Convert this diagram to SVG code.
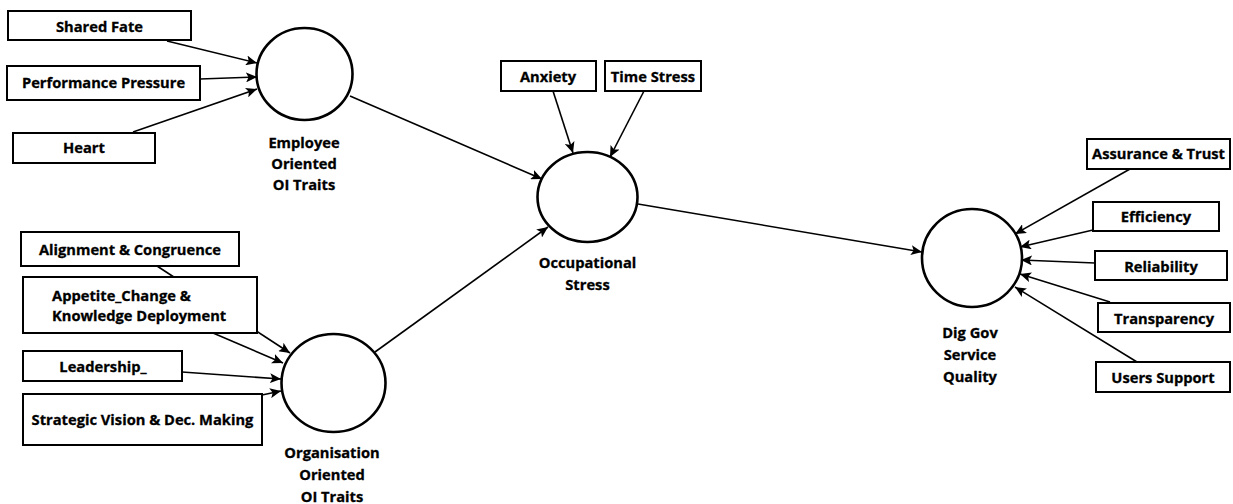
<svg xmlns="http://www.w3.org/2000/svg" width="1233" height="504" viewBox="0 0 1233 504">
  <style>
    .box { fill: #fff; stroke: #000; stroke-width: 2; }
    .lv { fill: #fff; stroke: #000; stroke-width: 2.6; }
    .t { font-family: "Open Sans", "Noto Sans", "DejaVu Sans", sans-serif; font-weight: 700; font-size: 14.7px; fill: #000; stroke: #000; stroke-width: 0.3; text-anchor: middle; }
    .tl { text-anchor: start; }
    .c { fill: none; stroke: #000; stroke-width: 1.6; marker-end: url(#ah); }
  </style>
  <defs>
    <marker id="ah" markerUnits="userSpaceOnUse" markerWidth="12" markerHeight="10" viewBox="0 0 12 10" refX="11" refY="5" orient="auto">
      <path d="M0,0 L11,5 L0,10 L2.5,5 z" fill="#000"/>
    </marker>
  </defs>

  <!-- connectors (drawn first so boxes sit on top) -->
  <g id="connectors">
    <line class="c" x1="167" y1="41" x2="257" y2="63"/>
    <line class="c" x1="200" y1="79" x2="257" y2="77"/>
    <line class="c" x1="133" y1="132" x2="257" y2="89"/>
    <line class="c" x1="350" y1="96" x2="542" y2="179"/>
    <line class="c" x1="553" y1="91" x2="573" y2="153"/>
    <line class="c" x1="644" y1="91" x2="610" y2="157"/>
    <line class="c" x1="375" y1="352" x2="548" y2="227"/>
    <line class="c" x1="638" y1="204" x2="922" y2="252"/>
    <line class="c" x1="157" y1="266" x2="290" y2="353"/>
    <line class="c" x1="213" y1="333" x2="283" y2="363"/>
    <line class="c" x1="182" y1="372" x2="281" y2="379"/>
    <line class="c" x1="262" y1="395" x2="281" y2="391"/>
    <line class="c" x1="1130" y1="169" x2="1015" y2="234"/>
    <line class="c" x1="1093" y1="230" x2="1020" y2="247"/>
    <line class="c" x1="1095" y1="263" x2="1021" y2="260"/>
    <line class="c" x1="1110" y1="302" x2="1020" y2="274"/>
    <line class="c" x1="1137" y1="362" x2="1015" y2="287"/>
  </g>

  <!-- latent variables -->
  <g id="employee-oriented">
    <ellipse class="lv" cx="304.5" cy="74" rx="48" ry="46"/>
    <text class="t" x="304" y="148">Employee</text>
    <text class="t" x="304" y="169">Oriented</text>
    <text class="t" x="304" y="190">OI Traits</text>
  </g>
  <g id="organisation-oriented">
    <ellipse class="lv" cx="333.5" cy="383" rx="52" ry="49"/>
    <text class="t" x="332" y="458">Organisation</text>
    <text class="t" x="332" y="480">Oriented</text>
    <text class="t" x="332" y="502">OI Traits</text>
  </g>
  <g id="occupational-stress">
    <ellipse class="lv" cx="587.5" cy="197" rx="50" ry="45"/>
    <text class="t" x="587.5" y="268">Occupational</text>
    <text class="t" x="587.5" y="290">Stress</text>
  </g>
  <g id="dig-gov-service-quality">
    <ellipse class="lv" cx="972" cy="258" rx="50" ry="49"/>
    <text class="t" x="970" y="338">Dig Gov</text>
    <text class="t" x="970" y="360">Service</text>
    <text class="t" x="970" y="382">Quality</text>
  </g>

  <!-- indicators: employee oriented -->
  <g id="shared-fate">
    <rect class="box" x="8" y="11" width="183" height="29"/>
    <text class="t" x="99.5" y="32">Shared Fate</text>
  </g>
  <g id="performance-pressure">
    <rect class="box" x="7" y="66" width="193" height="34"/>
    <text class="t" x="103.5" y="88">Performance Pressure</text>
  </g>
  <g id="heart">
    <rect class="box" x="13" y="133" width="142" height="30"/>
    <text class="t" x="84" y="153">Heart</text>
  </g>

  <!-- indicators: organisation oriented -->
  <g id="alignment-congruence">
    <rect class="box" x="21" y="232" width="218" height="34"/>
    <text class="t" x="130" y="255">Alignment &amp; Congruence</text>
  </g>
  <g id="appetite-change">
    <rect class="box" x="23" y="277" width="234" height="56"/>
    <text class="t tl" x="52" y="301">Appetite_Change &amp;</text>
    <text class="t tl" x="52" y="321">Knowledge Deployment</text>
  </g>
  <g id="leadership">
    <rect class="box" x="23" y="351" width="159" height="30"/>
    <text class="t" x="103" y="372">Leadership_</text>
  </g>
  <g id="strategic-vision">
    <rect class="box" x="23" y="394" width="239" height="51"/>
    <text class="t" x="142.5" y="425">Strategic Vision &amp; Dec. Making</text>
  </g>

  <!-- indicators: occupational stress -->
  <g id="anxiety">
    <rect class="box" x="501" y="61" width="95" height="30"/>
    <text class="t" x="548" y="82">Anxiety</text>
  </g>
  <g id="time-stress">
    <rect class="box" x="605" y="61" width="96" height="30"/>
    <text class="t" x="653" y="82">Time Stress</text>
  </g>

  <!-- indicators: service quality -->
  <g id="assurance-trust">
    <rect class="box" x="1087" y="139" width="143" height="30"/>
    <text class="t" x="1158.5" y="159">Assurance &amp; Trust</text>
  </g>
  <g id="efficiency">
    <rect class="box" x="1093" y="202" width="126" height="29"/>
    <text class="t" x="1156" y="222">Efficiency</text>
  </g>
  <g id="reliability">
    <rect class="box" x="1095" y="251" width="132" height="29"/>
    <text class="t" x="1161" y="272">Reliability</text>
  </g>
  <g id="transparency">
    <rect class="box" x="1098" y="303" width="132" height="29"/>
    <text class="t" x="1164" y="324">Transparency</text>
  </g>
  <g id="users-support">
    <rect class="box" x="1096" y="362" width="134" height="30"/>
    <text class="t" x="1163" y="383">Users Support</text>
  </g>
</svg>
